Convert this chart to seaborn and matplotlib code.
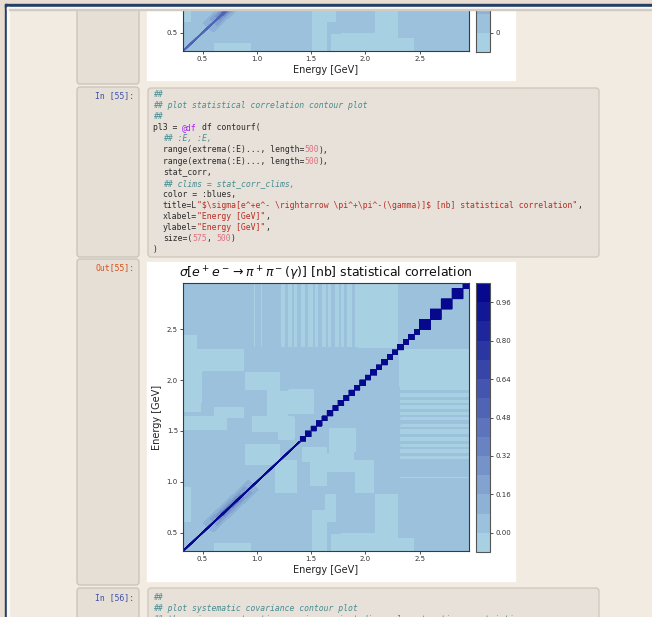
import numpy as np
import matplotlib
matplotlib.use("Agg")
import matplotlib.pyplot as plt
import seaborn as sns
from matplotlib.patches import Rectangle, FancyBboxPatch

# =========================
# DATA
# =========================
e_min, e_max = 0.32, 2.955
n_grid = 500

# wide data bins above 1.4 GeV -> square blocks on the diagonal
block_edges = [1.40, 1.45, 1.50, 1.55, 1.60, 1.65, 1.70, 1.75, 1.80, 1.85, 1.90,
               1.95, 2.00, 2.05, 2.10, 2.15, 2.20, 2.25, 2.30, 2.35, 2.40, 2.45,
               2.50, 2.60, 2.70, 2.80, 2.90, 3.00]

# background correlation: slightly positive everywhere, slightly negative in patches
pos_level = 0.03
neg_level = -0.03
# (Ex lo, Ex hi, Ey lo, Ey hi), mirrored across the diagonal
neg_patches = [
    (0.32, 0.45, 2.25, 2.45),
    (0.43, 0.69, 2.17, 2.26),
    (0.32, 0.49, 1.68, 1.82),
    (0.60, 0.88, 1.62, 1.74),
    (0.88, 1.10, 1.92, 2.08),
    (1.29, 1.53, 1.66, 1.92),
    (0.60, 0.95, 0.30, 0.40),
    (1.16, 1.38, 0.89, 1.22),
    (1.41, 1.65, 1.19, 1.35),
    (1.50, 1.65, 0.30, 0.73),
    (1.65, 1.90, 1.09, 1.29),
    (1.90, 2.08, 0.89, 1.22),
    (2.08, 2.31, 0.30, 0.89),
    (1.77, 2.08, 0.30, 0.50),
    (0.95, 1.20, 1.49, 1.65),
    (1.93, 2.31, 2.31, 2.96),
]
# thin negative stripes against the highest-energy bins
stripe_zone = 2.32
neg_stripes = [(0.97, 0.99), (1.03, 1.05), (1.09, 1.10), (1.14, 1.15), (1.19, 1.20),
               (1.22, 1.26), (1.28, 1.33), (1.34, 1.38), (1.40, 1.45), (1.47, 1.52),
               (1.53, 1.57), (1.60, 1.64), (1.65, 1.69), (1.71, 1.76), (1.77, 1.81),
               (1.83, 1.88), (1.90, 1.93)]

# rho(770) smear around the diagonal, widest ring first
rho_half_width = [0.09, 0.06, 0.035, 0.018]
rho_from = [0.55, 0.60, 0.64, 0.68]
rho_to = [0.97, 0.92, 0.86, 0.82]
rho_value = [0.10, 0.20, 0.30, 0.42]

levels = [-0.08, 0.00, 0.08, 0.16, 0.24, 0.32, 0.40, 0.48, 0.56, 0.64, 0.72,
          0.80, 0.88, 0.96, 1.04]
cbar_ticks = [0.00, 0.16, 0.32, 0.48, 0.64, 0.80, 0.96]
axis_ticks = [0.5, 1.0, 1.5, 2.0, 2.5]

# =========================
# BUILD MATRIX
# =========================
E = np.linspace(e_min, e_max, n_grid)
EX, EY = np.meshgrid(E, E)
lo_e, hi_e = np.minimum(EX, EY), np.maximum(EX, EY)

stat_corr = np.full(EX.shape, pos_level)
for x0, x1, y0, y1 in neg_patches:
    for a, b in ((EX, EY), (EY, EX)):
        stat_corr[(a >= x0) & (a < x1) & (b >= y0) & (b < y1)] = neg_level
for s0, s1 in neg_stripes:
    stat_corr[(hi_e > stripe_zone) & (lo_e >= s0) & (lo_e < s1)] = neg_level

mid, dist = (EX + EY) / 2, np.abs(EX - EY)
for hw, a, b, v in zip(rho_half_width, rho_from, rho_to, rho_value):
    stat_corr[(dist < hw) & (mid > a) & (mid < b)] = v

idx = np.arange(n_grid)
I, J = np.meshgrid(idx, idx)
stat_corr[(hi_e < block_edges[0]) & (np.abs(I - J) <= 1)] = 1.0
bx, by = np.digitize(EX, block_edges), np.digitize(EY, block_edges)
stat_corr[(bx == by) & (bx > 0) & (bx < len(block_edges))] = 1.0

# previous cell's plot (only its bottom strip is visible)
prev_corr = np.minimum(stat_corr, 0.55)

# =========================
# STYLE
# =========================
sns.set_theme(style="ticks")
plt.rcParams["font.family"] = ["DejaVu Sans"]
blues = sns.blend_palette(["lightblue", "darkblue"], as_cmap=True)

W, H = 652, 617


def px_box(x0, y0, x1, y1):
    return [x0 / W, 1 - y1 / H, (x1 - x0) / W, (y1 - y0) / H]


fig = plt.figure(figsize=(W / 100, H / 100), dpi=100)
renderer = fig.canvas.get_renderer()

# =========================
# NOTEBOOK BACKGROUND
# =========================
bg = fig.add_axes([0, 0, 1, 1], zorder=0)
bg.set_xlim(0, W)
bg.set_ylim(H, 0)
bg.axis("off")
bg.add_patch(Rectangle((0, 0), W, H, color="#f2ebe2"))
for y0, y1 in [(0, 84), (87, 257), (259, 585), (588, 640)]:
    bg.add_patch(FancyBboxPatch((77, y0), 62, y1 - y0,
                                boxstyle="round,pad=0,rounding_size=3",
                                fc="#e6dfd6", ec="#c9c2b8", lw=0.9))
for y0, y1 in [(88, 257), (588, 640)]:
    bg.add_patch(FancyBboxPatch((148, y0), 451, y1 - y0,
                                boxstyle="round,pad=0,rounding_size=3",
                                fc="#e7e1d9", ec="#ccc6bd", lw=0.9))
bg.add_patch(Rectangle((147, 0), 368, 80, color="white"))
bg.add_patch(Rectangle((147, 262), 368, 319, color="white"))

mono = dict(family="DejaVu Sans Mono", fontsize=5.9, va="center", parse_math=False)
bg.text(134, 96, "In [55]:", ha="right", color="#3f51a8", **mono)
bg.text(134, 268, "Out[55]:", ha="right", color="#d6501c", **mono)
bg.text(134, 598, "In [56]:", ha="right", color="#3f51a8", **mono)

# width of one monospace column as actually rendered
probe = bg.text(0, -50, "0" * 80, **mono)
char_w = probe.get_window_extent(renderer).width / 80
probe.remove()

styles = {
    "k": dict(color="#2b2b2b"),
    "c": dict(color="#468c91", style="italic"),
    "m": dict(color="#aa22ff"),
    "s": dict(color="#bb2d22"),
    "n": dict(color="#e07080"),
}
code_55 = [
    [("##", "c")],
    [("## plot statistical correlation contour plot", "c")],
    [("##", "c")],
    [("pl3 = ", "k"), ("@df", "m"), (" df contourf(", "k")],
    [("  ", "k"), ("## :E, :E,", "c")],
    [("  range(extrema(:E)..., length=", "k"), ("500", "n"), ("),", "k")],
    [("  range(extrema(:E)..., length=", "k"), ("500", "n"), ("),", "k")],
    [("  stat_corr,", "k")],
    [("  ", "k"), ("## clims = stat_corr_clims,", "c")],
    [("  color = :blues,", "k")],
    [("  title=L", "k"),
     ('"$\\sigma[e^+e^- \\rightarrow \\pi^+\\pi^-(\\gamma)]$ [nb] statistical correlation"', "s"),
     (",", "k")],
    [("  xlabel=", "k"), ('"Energy [GeV]"', "s"), (",", "k")],
    [("  ylabel=", "k"), ('"Energy [GeV]"', "s"), (",", "k")],
    [("  size=(", "k"), ("575", "n"), (", ", "k"), ("500", "n"), (")", "k")],
    [(")", "k")],
]
code_56 = [
    [("##", "c")],
    [("## plot systematic covariance contour plot", "c")],
    [("## there is no systematic covariance, just diagonal systematic uncertainties", "c")],
]


def draw_code(lines, y_first, dy):
    for k, line in enumerate(lines):
        col = 0
        for text, st in line:
            lead = len(text) - len(text.lstrip(" "))
            if text.strip():
                bg.text(153 + (col + lead) * char_w, y_first + k * dy,
                        text.lstrip(" "), ha="left", **mono, **styles[st])
            col += len(text)


draw_code(code_55, 94.5, 11.1)
draw_code(code_56, 598, 10.8)

# =========================
# PLOTS
# =========================
tick_kw = dict(labelsize=5.0, length=2.2, width=0.6, colors="#333333",
               direction="out", pad=1.5)


def corr_panel(ax_px, cax_px, data, yticks, cbar_fmt, ticks):
    ax = fig.add_axes(px_box(*ax_px), zorder=1)
    cs = ax.contourf(E, E, data, levels=levels, cmap=blues)
    ax.set_xlim(e_min, e_max)
    ax.set_ylim(e_min, e_max)
    ax.set_xticks(axis_ticks)
    ax.set_yticks(yticks)
    ax.tick_params(**tick_kw)
    for s in ax.spines.values():
        s.set_color("#3a3a3a")
        s.set_linewidth(0.8)
    ax.set_xlabel("Energy [GeV]", fontsize=7.0, labelpad=2, color="#222222")
    cax = fig.add_axes(px_box(*cax_px), zorder=1)
    cb = fig.colorbar(cs, cax=cax, ticks=ticks, format=cbar_fmt)
    cb.outline.set_edgecolor("#555555")
    cb.outline.set_linewidth(0.8)
    cax.tick_params(**tick_kw)
    return ax


# previous output cell, cut off at the top of the screen
corr_panel((183, -217, 469, 51), (476, -217, 490, 52), prev_corr, [0.5], "%g", [0.0])

ax = corr_panel((183, 283, 469, 551), (476, 283, 490, 552), stat_corr, axis_ticks,
                "%.2f", cbar_ticks)
ax.set_ylabel("Energy [GeV]", fontsize=7.0, labelpad=3, color="#222222")
ax.set_title(r"$\sigma[e^+e^- \rightarrow \pi^+\pi^-(\gamma)]$ [nb] statistical correlation",
             fontsize=9.0, pad=4, color="#111111")

# =========================
# WINDOW FRAME
# =========================
ov = fig.add_axes([0, 0, 1, 1], zorder=5)
ov.set_xlim(0, W)
ov.set_ylim(H, 0)
ov.axis("off")
ov.patch.set_alpha(0)
ov.add_patch(Rectangle((0, 0), W, 4, color="#e8ddd0"))
ov.add_patch(Rectangle((0, 0), 5, H, color="#e8ddd0"))
ov.add_patch(Rectangle((5, 4), W, 3.3, color="#243f66"))
ov.add_patch(Rectangle((5, 4), 2.3, H, color="#243f66"))
ov.add_patch(Rectangle((7.3, 7.3), W, 1.7, color="#fbf9f6"))
ov.add_patch(Rectangle((7.3, 7.3), 1.5, H, color="#fbf9f6"))
ov.add_patch(Rectangle((8.8, 9.0), W, 1.0, color="#d0cbc3"))

fig.savefig("out.png", dpi=100)
